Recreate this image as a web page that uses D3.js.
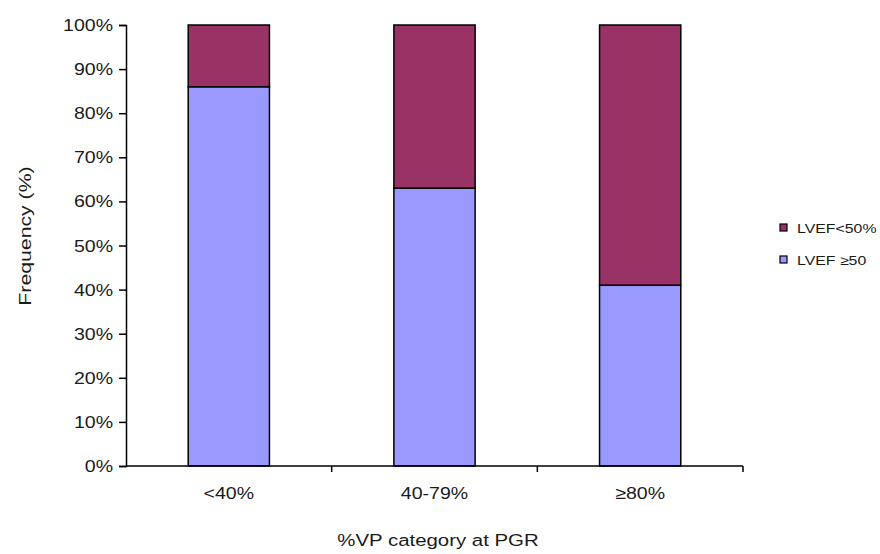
<!DOCTYPE html>
<html><head><meta charset="utf-8">
<script src="https://cdn.jsdelivr.net/npm/d3@7"></script>
<style>body{margin:0;background:#fff}svg{display:block;font-family:Arial,"Liberation Sans",sans-serif}</style>
</head><body><svg id="c" width="880" height="554"></svg>
<script>
const categories = ["<40%", "40-79%", "≥80%"];
const lvefGe50 = [86, 63, 41];
const lvefLt50 = [14, 37, 59];
const seriesNames = ["LVEF<50%", "LVEF ≥50"];
const yTicks = [0,10,20,30,40,50,60,70,80,90,100];

(function(){
const svg = d3.select("#c");
const mLeft = 126, mRight = 743, mTop = 25, mBottom = 466;
const x = d3.scaleBand().domain(categories).range([mLeft, mRight]).paddingInner(0).paddingOuter(0);
const y = d3.scaleLinear().domain([0, 100]).range([mBottom, mTop]);
const barW = x.bandwidth() * 0.395;
const SX = 1.15, FS = 17, TXT = "#1a1a1a";

const colors = {lt: "#993366", ge: "#9999FF"};

function label(px, py, str, anchor, fs, sx, rot) {
  return svg.append("text")
    .attr("transform", `translate(${px},${py})` + (rot ? ` rotate(${rot})` : "") + ` scale(${sx},1)`)
    .attr("text-anchor", anchor).attr("font-size", fs).attr("fill", TXT).text(str);
}

categories.forEach((c, i) => {
  const cx = x(c) + x.bandwidth() / 2;
  svg.append("rect").attr("x", cx - barW/2).attr("y", y(lvefGe50[i]))
    .attr("width", barW).attr("height", y(0) - y(lvefGe50[i]))
    .attr("fill", colors.ge).attr("stroke", "#000").attr("stroke-width", 1.5);
  svg.append("rect").attr("x", cx - barW/2).attr("y", y(lvefGe50[i] + lvefLt50[i]))
    .attr("width", barW).attr("height", y(lvefGe50[i]) - y(lvefGe50[i] + lvefLt50[i]))
    .attr("fill", colors.lt).attr("stroke", "#000").attr("stroke-width", 1.5);
});

// y axis
const ya = svg.append("g").attr("transform", `translate(${mLeft},0)`)
  .call(d3.axisLeft(y).tickValues(yTicks).tickFormat("").tickSizeOuter(0).tickSize(7));
ya.select(".domain").attr("stroke", "#000").attr("stroke-width", 1.5);
ya.selectAll(".tick line").attr("stroke", "#000").attr("stroke-width", 1.5);
yTicks.forEach(t => label(mLeft - 13, y(t) + 6, t + "%", "end", FS, SX));

// x axis
const xa = svg.append("g").attr("transform", `translate(0,${mBottom})`);
xa.append("line").attr("x1", mLeft).attr("x2", mRight).attr("y1", 0).attr("y2", 0).attr("stroke", "#000").attr("stroke-width", 1.5);
const bounds = categories.map(c => x(c)).concat([mRight]);
bounds.slice(1).forEach(b => xa.append("line").attr("x1", b).attr("x2", b).attr("y1", 0).attr("y2", 6).attr("stroke", "#000").attr("stroke-width", 1.5));
categories.forEach(c => label(x(c) + x.bandwidth()/2, mBottom + 33, c, "middle", FS, SX));

label(438, 546, "%VP category at PGR", "middle", FS, 1.2);
label(31, 236, "Frequency (%)", "middle", FS, 1.25, -90);

// legend
const leg = [{n: seriesNames[0], c: colors.lt, y: 228}, {n: seriesNames[1], c: colors.ge, y: 260}];
leg.forEach(l => {
  svg.append("rect").attr("x", 780).attr("y", l.y - 4).attr("width", 7).attr("height", 7).attr("fill", l.c).attr("stroke", "#000").attr("stroke-width", 1.2);
  label(797, l.y + 5, l.n, "start", 13, 1.22);
});
})();
</script></body></html>
